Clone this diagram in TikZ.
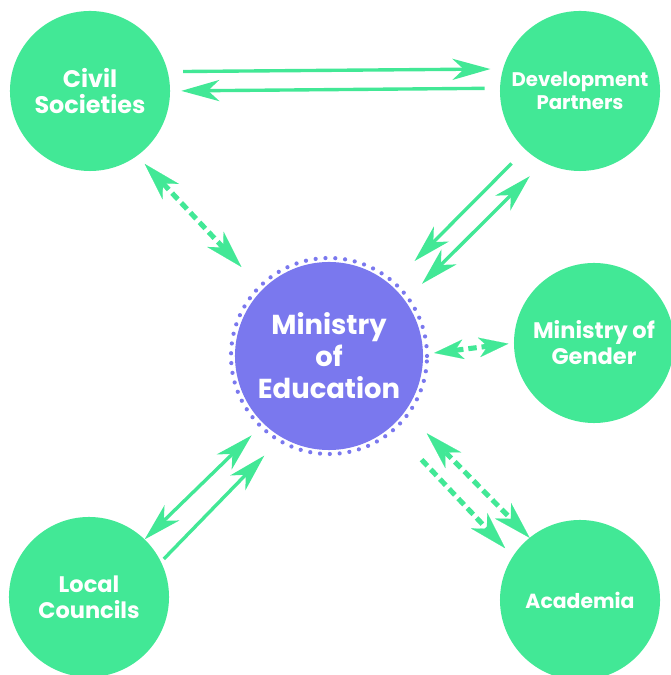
\documentclass[tikz,border=0pt]{standalone}
\usepackage{fontspec}
\setmainfont{Poppins}
\usetikzlibrary{arrows.meta}

\definecolor{mint}{RGB}{66,232,150}
\definecolor{iris}{RGB}{122,120,238}

\begin{document}
\begin{tikzpicture}[x=0.025cm, y=0.025cm,
  actor/.style = {circle, fill=mint, minimum size=4cm, inner sep=0pt, outer sep=0pt,
                  text=white, align=center, font=\bfseries\fontsize{16}{18.5}\selectfont},
  hub/.style   = {circle, fill=iris, minimum size=4.7cm, inner sep=0pt, outer sep=0pt,
                  text=white, align=center, font=\bfseries\fontsize{19.5}{22.8}\selectfont},
  link/.style  = {draw=mint, line width=2.4pt},
  loose/.style = {draw=mint, line width=3.6pt, dash pattern=on 6pt off 3.5pt,
                  >={Stealth[length=27pt, width=16pt, inset=8pt, line width=0.1pt]}},
  >={Stealth[length=27pt, width=15pt, inset=8pt]}]
  \useasboundingbox (0,0) rectangle (670,675);

  \node[hub]   (moe) at (329,319) {Ministry\\of\\Education};
  \draw[iris, line width=3pt, line cap=round, dash pattern=on 0pt off 7pt]
    (moe.center) circle (98);

  \node[actor, font=\bfseries\fontsize{17}{18.5}\selectfont] (cs) at (90,584) {Civil\\Societies};
  \node[actor, font=\bfseries\fontsize{14}{16}\selectfont] (dp) at (580,584) {Development\\Partners};
  \node[actor] (gen) at (594,332) {Ministry of\\Gender};
  \node[actor] (lc)  at (89,78)   {Local\\Councils};
  \node[actor, font=\bfseries\fontsize{14.5}{16}\selectfont] (ac) at (580,75) {Academia};

  \draw[link, ->,  shorten <=11, shorten >=9]  (cs.14)    -- (dp.164);
  \draw[link, ->,  shorten <=11, shorten >=8]  (dp.178)   -- (cs.0);
  \draw[loose, <->, shorten <=8, shorten >=22] (cs.-54)   -- (moe.135.7);

  \draw[link, ->,  shorten <=14, shorten >=24] (dp.227.5) -- (moe.49.3);
  \draw[link, <->, shorten <=17, shorten >=14] (moe.36.8) -- (dp.243.2);

  \draw[loose, >={Stealth[length=21pt, width=14pt, inset=6pt, line width=0.1pt]}, <->,
        shorten <=8, shorten >=4] (moe.1.7) -- (gen.180);

  \draw[loose, ->,  shorten <=32, shorten >=8] (moe.-49.7) -- (ac.147);
  \draw[loose, <->, shorten <=22, shorten >=0] (moe.-36)   -- (ac.129.5);

  \draw[link, <->, shorten <=0,  shorten >=12] (lc.46)   -- (moe.226.8);
  \draw[link, ->,  shorten <=3,  shorten >=18] (lc.26.6) -- (moe.240.4);
\end{tikzpicture}
\end{document}
